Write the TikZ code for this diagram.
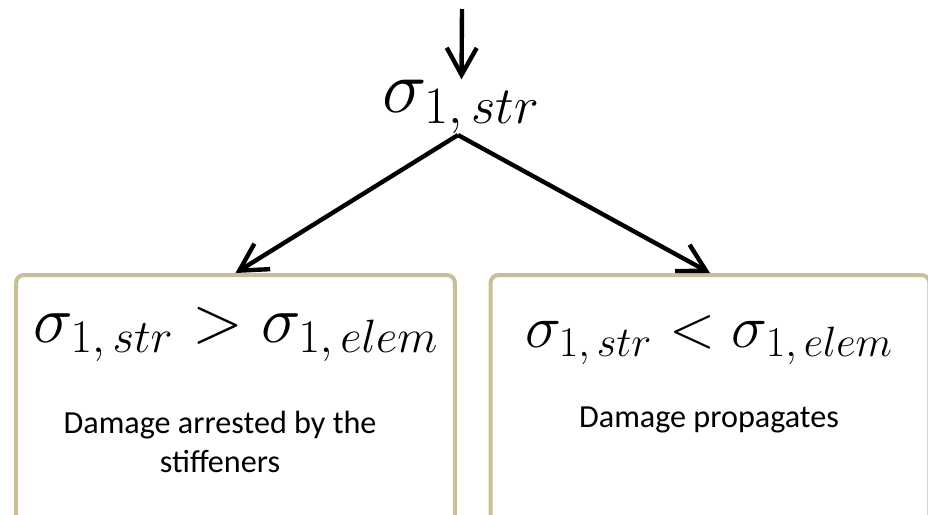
\RequirePackage{fix-cm}
\documentclass[tikz,border=0pt]{standalone}
\usepackage{fontspec}
\newfontfamily\calibri{Carlito}
\usetikzlibrary{arrows.meta,positioning}
\definecolor{boxtan}{HTML}{C8BF98}

\begin{document}
\begin{tikzpicture}[
    x=0.02cm,y=-0.02cm,
    casebox/.style = {rectangle,rounded corners=4.5pt,draw=boxtan,line width=2.3pt,
                      fill=white,minimum width=8.78cm,minimum height=5.1cm},
    crit/.style    = {inner sep=0pt,anchor=base},
    note/.style    = {inner sep=0pt,anchor=base,align=center,
                      font=\calibri\fontsize{18.3}{22}\selectfont},
    fl/.style      = {-{Straight Barb[length=5.4mm,width=6mm]},line width=2.5pt},
  ]

  \clip (0,0) rectangle (928,514);
  \fill[white] (0,0) rectangle (928,514);

  % the two cases
  \node[casebox] (arrest) at (235.5,402.5) {};
  \node[casebox] (prop)   at (710,402.5)   {};

  \coordinate (in) at (462,9);
  \node[crit,font=\fontsize{42.7}{46}\selectfont] (str) at (461.5,112)
       {$\sigma_{1,\,str}$};
  \coordinate (split) at (458,135);

  \node[crit,font=\fontsize{38}{42}\selectfont] (gt) at (236,342)
       {$\sigma_{1,\,str} > \sigma_{1,\,elem}$};
  % base anchor sits on the last line here
  \node[note] (gttxt) at (220,472) {Damage arrested by the\\stiffeners};

  \node[crit,font=\fontsize{34.5}{38}\selectfont] (lt) at (709,347)
       {$\sigma_{1,\,str} < \sigma_{1,\,elem}$};
  \node[note] (lttxt) at (709,427) {Damage propagates};

  \draw[fl] (in) -- (str.north);
  \draw[fl] (split) -- (arrest.north);
  \draw[fl] (split) -- (prop.north);

\end{tikzpicture}
\end{document}
